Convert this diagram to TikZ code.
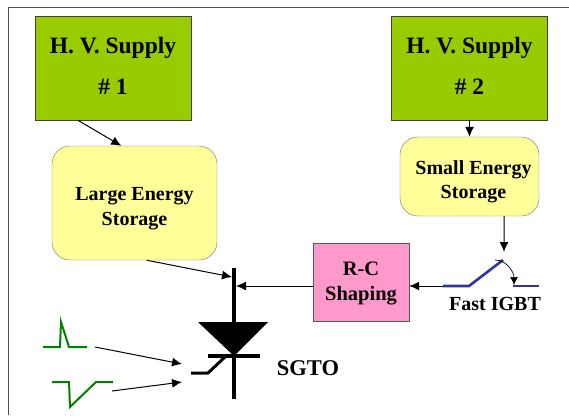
\documentclass[tikz,border=0pt]{standalone}
\usepackage{fontspec}
\setmainfont{Liberation Serif}
\usetikzlibrary{arrows.meta}
\definecolor{supplygreen}{HTML}{99CC00}
\definecolor{storeyellow}{HTML}{FFFF99}
\definecolor{shapepink}{HTML}{FF99CC}
\definecolor{switchblue}{HTML}{333399}
\definecolor{pulsegreen}{HTML}{008000}
\newcommand{\topstrut}{\rule{0pt}{24pt}}
\newcommand{\lowstrut}{\rule[-5pt]{0pt}{0pt}}
\tikzset{
  supplybox/.style={draw=black!75, fill=supplygreen, minimum width=156pt, minimum height=104pt, inner sep=0pt, align=center, font=\fontsize{23.5}{26}\selectfont\bfseries},
  storebox/.style={draw=black!55, fill=storeyellow, rounded corners=18pt, inner sep=0pt, align=center, font=\fontsize{20}{24.5}\selectfont\bfseries},
  shapebox/.style={draw=black!65, fill=shapepink, minimum width=96pt, minimum height=78pt, inner sep=0pt, align=center, font=\fontsize{20.5}{24.5}\selectfont\bfseries},
  wirelabel/.style={inner sep=0pt, font=\fontsize{20}{24}\selectfont\bfseries},
  flow/.style={line width=1pt, -{Latex[length=10pt,width=9pt]}},
  pulse/.style={pulsegreen, line width=2pt},
  switchline/.style={switchblue, line width=2.6pt},
  thyristor/.style={black, line width=4pt}
}
\begin{document}
\begin{tikzpicture}[x=1pt,y=-1pt]
    \useasboundingbox (0,0) rectangle (569,415);
    \draw[black!70, line width=0.8pt] (8.5,415) -- (8.5,7.5) -- (569,7.5);

    % boxes
    \node[supplybox] (supplyone) at (113,68) {H. V. Supply\\[15pt]\# 1\lowstrut};
    \node[supplybox] (supplytwo) at (469.5,68) {H. V. Supply\\[15pt]\# 2\lowstrut};
    \node[storebox, minimum width=165pt, minimum height=114pt] (largestore) at (134.5,203) {\topstrut Large Energy\\Storage};
    \node[storebox, minimum width=139pt, minimum height=79pt] (smallstore) at (469.5,176.5) {\topstrut\hspace*{8pt}Small Energy\\\hspace*{8pt}Storage};
    \node[shapebox] (shaping) at (361,282) {\rule{0pt}{17pt}R-C\\Shaping};
    \node[wirelabel] (igbtlabel) at (495,304) {Fast IGBT};
    \node[wirelabel, font=\fontsize{22.5}{26}\selectfont\bfseries] (sgtolabel) at (308,368) {SGTO};

    % switch
    \coordinate (switchleft) at (443,286);
    \coordinate (switchtop) at (504,252);
    \coordinate (switchtip) at (503,260);
    \coordinate (switchright) at (513,286);
    \draw[switchline] (switchleft) -- (469,286) -- (switchtip);
    \draw[switchline] (switchright) -- (539,286);
    \draw[-{Latex[length=8pt,width=8pt]}, line width=0.7pt] (495,260) to[out=0,in=90] (514,285);

    % thyristor
    \coordinate (anodetop) at (234,268);
    \coordinate (cathode) at (234,399);
    \coordinate (gatebar) at (234,356);
    \coordinate (gatein) at (191,373);
    \draw[thyristor] (anodetop) -- (cathode);
    \fill (198,322) -- (268,322) -- (gatebar) -- cycle;
    \draw[thyristor] (208,356) -- (260,356);
    \draw[black, line width=3pt] (gatein) -- (208,373) -- (226,356);

    % pulses
    \draw[pulse] (43,347) -- (60,347) -- (61,322) -- (69,347) -- (87,347);
    \draw[pulse] (52,382) -- (69,382) -- (70,407) -- (96,382) -- (113,382);

    % connectors
    \draw[flow] (supplyone.-124) -- (largestore.103);
    \draw[flow] (supplytwo.south) -- (smallstore.north);
    \draw[flow] (smallstore.-49) -- (switchtop);
    \draw[flow] (switchleft) -- (switchleft -| shaping.east);
    \draw[flow] (switchleft -| shaping.west) -- (236,286);
    \draw[flow] (largestore.-78) -- (232,277);
    \draw[flow] (95,347) -- (182,364);
    \draw[flow] (112,391) -- (182,382);
\end{tikzpicture}
\end{document}
